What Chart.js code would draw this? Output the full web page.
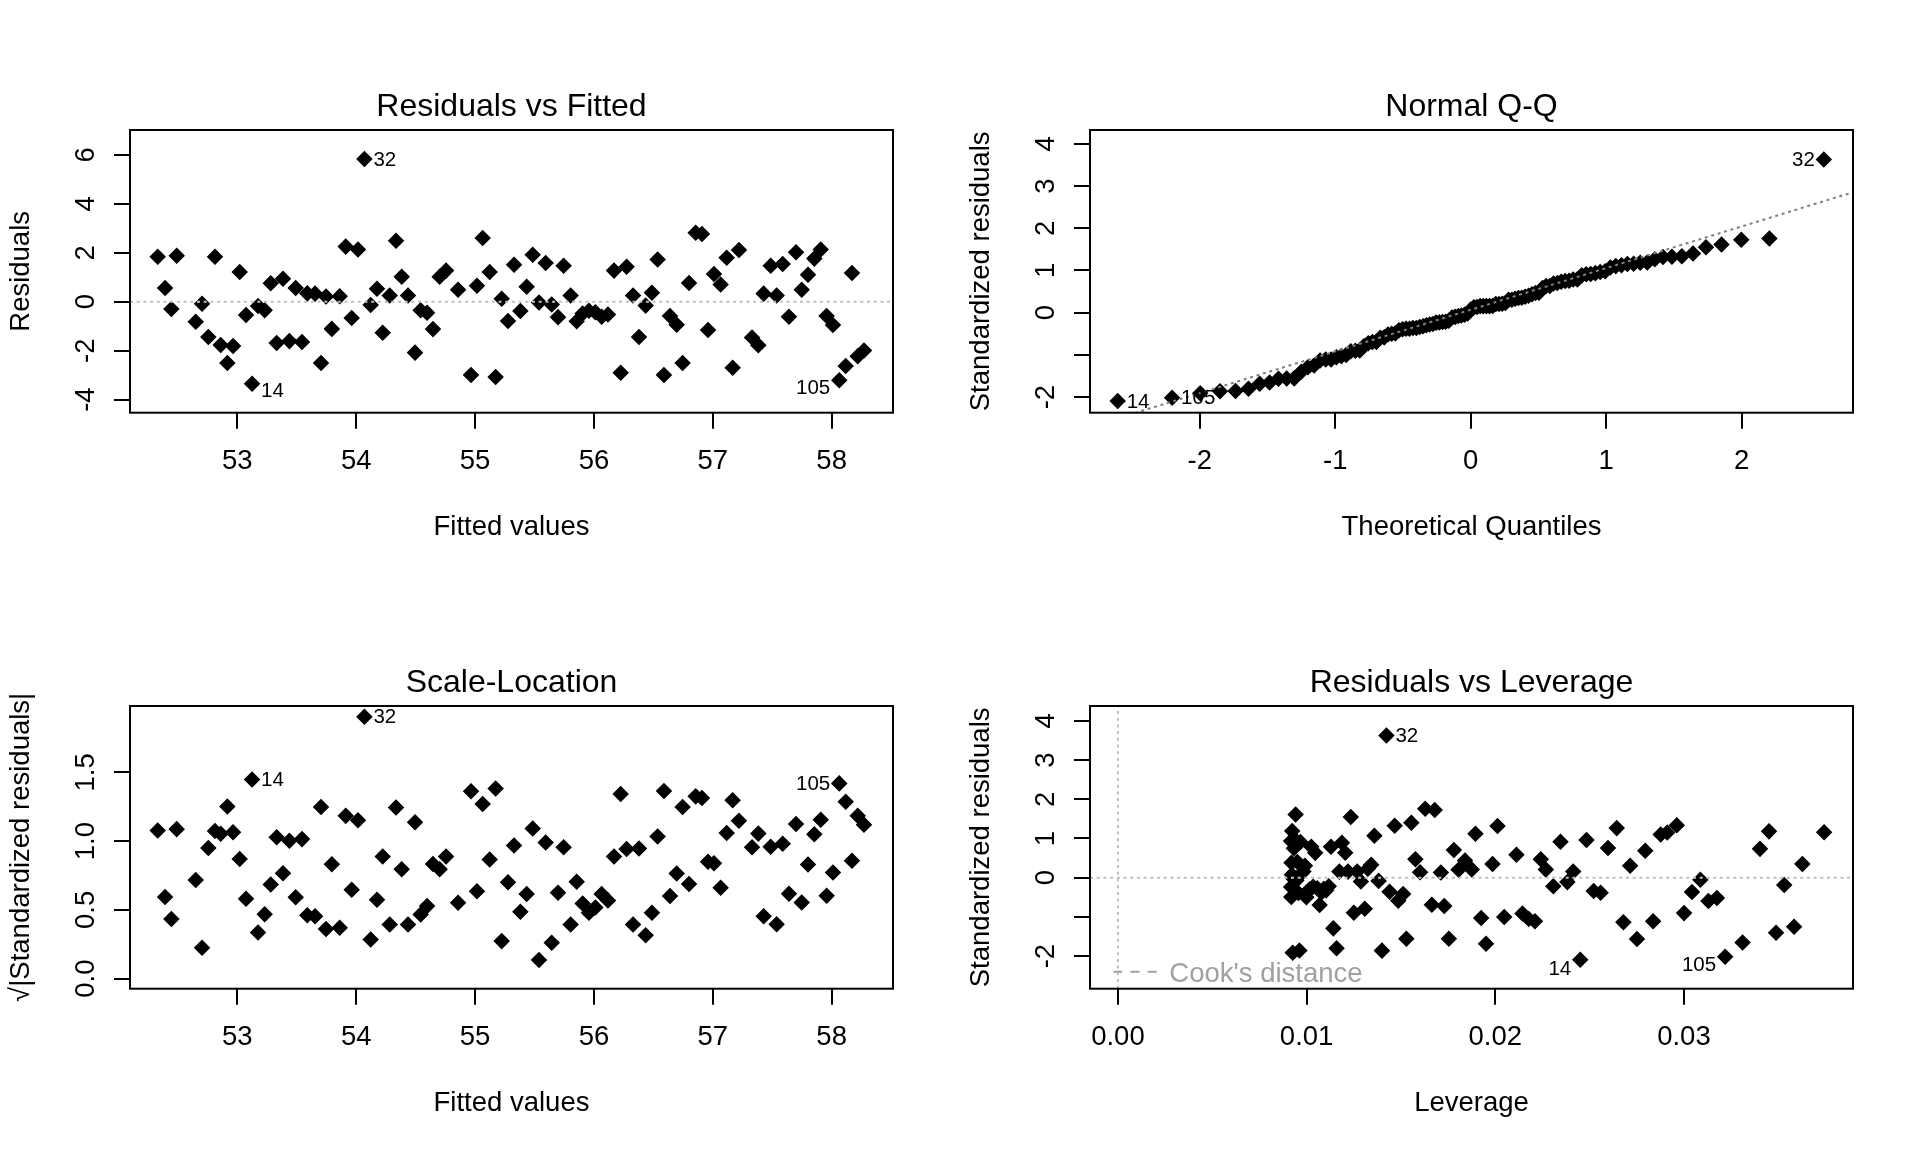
<!DOCTYPE html>
<html>
<head>
<meta charset="utf-8">
<title>Regression diagnostics</title>
<script src="https://cdn.jsdelivr.net/npm/chart.js@4.4.1/dist/chart.umd.min.js"></script>
<style>
  html, body { margin: 0; padding: 0; background: #fff; }
  #page { position: relative; width: 1920px; height: 1152px; background: #fff; overflow: hidden; }
  #page canvas { position: absolute; }
</style>
</head>
<body>
<div id="page">
  <canvas id="p1" width="960" height="576" style="left:0;top:0"></canvas>
  <canvas id="p2" width="960" height="576" style="left:960px;top:0"></canvas>
  <canvas id="p3" width="960" height="576" style="left:0;top:576px"></canvas>
  <canvas id="p4" width="960" height="576" style="left:960px;top:576px"></canvas>
</div>
<script>
const fittedValues = [
  52.330, 52.392, 52.445, 52.490, 52.650, 52.703, 52.756, 52.812, 52.860, 52.916, 52.964, 53.020, 53.073, 53.124, 53.174, 53.230, 53.281, 53.331, 53.384, 53.438, 53.491, 53.544, 53.589, 53.654, 53.704, 53.746, 53.795,
  53.861, 53.912, 53.962, 54.015, 54.069, 54.122, 54.175, 54.223, 54.282, 54.335, 54.383, 54.436, 54.495, 54.542, 54.596, 54.646, 54.702, 54.756, 54.857, 54.966, 55.016, 55.064, 55.123, 55.173, 55.224, 55.277, 55.328, 55.381, 55.434,
  55.485, 55.538, 55.594, 55.645, 55.698, 55.745, 55.804, 55.855, 55.905, 55.958, 56.012, 56.065, 56.118, 56.169, 56.225, 56.275, 56.329, 56.379, 56.435, 56.488, 56.536, 56.589, 56.640, 56.696, 56.746, 56.800, 56.856, 56.909, 56.960, 57.010, 57.066, 57.117,
  57.167, 57.220, 57.330, 57.383, 57.428, 57.487, 57.537, 57.588, 57.641, 57.700, 57.748, 57.801, 57.854, 57.908, 57.958, 58.011, 58.064, 58.118, 58.171, 58.219, 58.272
];
const residuals = [
  1.84, 0.56, -0.30, 1.88, -0.82, -0.08, -1.44, 1.84, -1.77, -2.50, -1.81, 1.21, -0.54, -3.35, -0.18, -0.35, 0.75, -1.69, 0.94, -1.61, 0.56, -1.65, 0.34, 0.33, -2.50, 0.21, -1.11,
  0.22, 2.25, -0.67, 2.13, 5.83, -0.13, 0.53, -1.27, 0.25, 2.49, 1.02, 0.25, -2.08, -0.35, -0.45, -1.12, 1.02, 1.27, 0.49, -2.99, 0.65, 2.60, 1.21, -3.08, 0.12, -0.79, 1.51, -0.38, 0.61,
  1.92, -0.03, 1.58, -0.11, -0.63, 1.47, 0.25, -0.80, -0.48, -0.37, -0.43, -0.61, -0.52, 1.27, -2.90, 1.43, 0.25, -1.44, -0.16, 0.37, 1.72, -2.99, -0.58, -0.94, -2.50, 0.76, 2.82, 2.77, -1.16, 1.13, 0.70, 1.80,
  -2.70, 2.11, -1.46, -1.78, 0.33, 1.47, 0.25, 1.54, -0.61, 2.02, 0.49, 1.10, 1.76, 2.13, -0.58, -0.95, -3.21, -2.63, 1.17, -2.23, -1.99
];
const labelledObs = [14, 32, 105];

const fittedTicks = [53, 54, 55, 56, 57, 58];
const residTicks = [-4, -2, 0, 2, 4, 6];
const quantileTicks = [-2, -1, 0, 1, 2];
const stdResidTicks = [-2, -1, 0, 1, 2, 3, 4];
const stdResidTickLabels = ['-2', '', '0', '1', '2', '3', '4'];
const sqrtTicks = [0, 0.5, 1, 1.5];
const sqrtTickLabels = ['0.0', '0.5', '1.0', '1.5'];
const leverageTicks = [0, 0.01, 0.02, 0.03];
const leverageTickLabels = ['0.00', '0.01', '0.02', '0.03'];

// axis limits as shown in the picture
const fittedRange = [52.097, 58.516];
const residRange = [-4.534, 7.014];
const quantileRange = [-2.810, 2.821];
const qqRange = [-2.369, 4.327];
const sqrtRange = [-0.073, 1.982];
const leverageRange = [-0.00148, 0.03896];
const levStdRange = [-2.830, 4.378];

// the usual lm diagnostics of the residuals above
const n = fittedValues.length;
const meanFit = fittedValues.reduce((s, v) => s + v, 0) / n;
const sxx = fittedValues.reduce((s, v) => s + (v - meanFit) ** 2, 0);
const leverage = fittedValues.map(v => 1 / n + (v - meanFit) ** 2 / sxx);
const sigma = Math.sqrt(residuals.reduce((s, r) => s + r * r, 0) / (n - 2));
const stdResid = residuals.map((r, i) => r / (sigma * Math.sqrt(1 - leverage[i])));
const sqrtStd = stdResid.map(v => Math.sqrt(Math.abs(v)));

function qnorm(p) {
  const a = [-3.969683028665376e+01, 2.209460984245205e+02, -2.759285104469687e+02, 1.383577518672690e+02, -3.066479806614716e+01, 2.506628277459239e+00];
  const b = [-5.447609879822406e+01, 1.615858368580409e+02, -1.556989798598866e+02, 6.680131188771972e+01, -1.328068155288572e+01];
  const c = [-7.784894002430293e-03, -3.223964580411365e-01, -2.400758277161838e+00, -2.549732539343734e+00, 4.374664141464968e+00, 2.938163982698783e+00];
  const d = [7.784695709041462e-03, 3.224671290700398e-01, 2.445134137142996e+00, 3.754408661907416e+00];
  const lo = 0.02425;
  let q, r;
  if (p < lo) {
    q = Math.sqrt(-2 * Math.log(p));
    return (((((c[0] * q + c[1]) * q + c[2]) * q + c[3]) * q + c[4]) * q + c[5]) / ((((d[0] * q + d[1]) * q + d[2]) * q + d[3]) * q + 1);
  }
  if (p > 1 - lo) return -qnorm(1 - p);
  q = p - 0.5; r = q * q;
  return (((((a[0] * r + a[1]) * r + a[2]) * r + a[3]) * r + a[4]) * r + a[5]) * q / (((((b[0] * r + b[1]) * r + b[2]) * r + b[3]) * r + b[4]) * r + 1);
}

const order = stdResid.map((v, i) => i).sort((i, j) => stdResid[i] - stdResid[j]);
const theoQ = order.map((idx, k) => qnorm((k + 0.5) / n));
const rankOf = [];
order.forEach((idx, k) => { rankOf[idx] = k; });

function quantile7(sorted, p) {
  const h = (sorted.length - 1) * p, l = Math.floor(h);
  return sorted[l] + (h - l) * (sorted[Math.min(l + 1, sorted.length - 1)] - sorted[l]);
}
const sortedStd = order.map(i => stdResid[i]);
const qy1 = quantile7(sortedStd, 0.25), qy3 = quantile7(sortedStd, 0.75);
const qx1 = qnorm(0.25), qx3 = qnorm(0.75);
const qqSlope = (qy3 - qy1) / (qx3 - qx1);
const qqIntercept = qy1 - qqSlope * qx1;

Chart.defaults.font.family = '"Liberation Sans", Arial, Helvetica, sans-serif';
Chart.defaults.color = '#000';

const LIGHT = '#bebebe';
const DOT = [3, 3.7];

// box, rotated y tick labels, id labels and legend, drawn the way R does it
const rPanel = {
  id: 'rPanel',
  afterDatasetsDraw(chart, args, opts) {
    const { ctx, chartArea: a } = chart;
    const xs = chart.scales.x, ys = chart.scales.y;
    ctx.save();
    ctx.strokeStyle = '#000';
    ctx.lineWidth = 2;
    ctx.setLineDash([]);
    ctx.strokeRect(a.left, a.top, a.right - a.left, a.bottom - a.top);

    ctx.fillStyle = '#000';
    ctx.font = '27.5px "Liberation Sans", Arial, sans-serif';
    ctx.textAlign = 'center';
    ctx.textBaseline = 'middle';
    opts.yTicks.forEach((v, i) => {
      const t = opts.yLabels[i];
      if (!t) return;
      ctx.save();
      ctx.translate(a.left - 43.3, ys.getPixelForValue(v));
      ctx.rotate(-Math.PI / 2);
      ctx.fillText(t, 0, 0);
      ctx.restore();
    });

    ctx.font = '20.5px "Liberation Sans", Arial, sans-serif';
    opts.ids.forEach(id => {
      const px = xs.getPixelForValue(id.x), py = ys.getPixelForValue(id.y);
      ctx.textAlign = id.side > 0 ? 'left' : 'right';
      ctx.fillText(id.text, px + id.side * 9, py + 1 + id.dy);
    });

    if (opts.legend) {
      ctx.strokeStyle = '#a0a0a0';
      ctx.lineWidth = 2;
      ctx.setLineDash([9, 8.2]);
      ctx.beginPath();
      ctx.moveTo(a.left + 23.3, a.bottom - 17);
      ctx.lineTo(a.left + 66.7, a.bottom - 17);
      ctx.stroke();
      ctx.setLineDash([]);
      ctx.fillStyle = '#a0a0a0';
      ctx.font = '27.5px "Liberation Sans", Arial, sans-serif';
      ctx.textAlign = 'left';
      ctx.fillText(opts.legend, a.left + 79.3, a.bottom - 14.4);
    }
    ctx.restore();
  }
};

function refLine(data, color) {
  return { data, showLine: true, pointRadius: 0, borderColor: color, borderWidth: 2, borderDash: DOT, fill: false, order: 1 };
}

function makePanel(id, p) {
  const pts = {
    data: p.points, showLine: false, pointStyle: 'rectRot', pointRadius: 7.2, pointBorderWidth: 1.5,
    backgroundColor: '#000', borderColor: '#000', order: 2
  };
  return new Chart(document.getElementById(id), {
    type: 'scatter',
    data: { datasets: [pts].concat(p.lines) },
    options: {
      responsive: false,
      animation: false,
      devicePixelRatio: 1,
      events: [],
      layout: { padding: { left: 0, right: 67, top: 0, bottom: 35.3 } },
      plugins: {
        legend: { display: false },
        tooltip: { enabled: false },
        title: {
          display: true, text: p.title, fullSize: false, color: '#000',
          font: { size: 32, weight: 'normal', lineHeight: 1 },
          padding: { top: 91.4, bottom: 6.6 }
        },
        rPanel: { yTicks: p.yTicks, yLabels: p.yLabels, ids: p.ids, legend: p.legend }
      },
      scales: {
        x: {
          type: 'linear', min: p.xRange[0], max: p.xRange[1],
          afterBuildTicks: s => { s.ticks = p.xTicks.map(v => ({ value: v })); },
          afterFit: s => { s.height = 128; },
          ticks: {
            autoSkip: false, maxRotation: 0, minRotation: 0, padding: 18.8, color: '#000',
            font: { size: 27.5, lineHeight: 1 },
            callback: (v, i) => p.xLabels[i]
          },
          grid: { drawOnChartArea: false, drawTicks: true, tickLength: 16, lineWidth: 2, tickWidth: 2, color: '#000', tickColor: '#000' },
          border: { display: false },
          title: { display: true, text: p.xTitle, color: '#000', font: { size: 27.5, lineHeight: 1 }, padding: { top: 0, bottom: 0 } }
        },
        y: {
          type: 'linear', min: p.yRange[0], max: p.yRange[1],
          afterBuildTicks: s => { s.ticks = p.yTicks.map(v => ({ value: v })); },
          afterFit: s => { s.width = 130; },
          ticks: { display: false },
          grid: { drawOnChartArea: false, drawTicks: true, tickLength: 16, lineWidth: 2, tickWidth: 2, color: '#000', tickColor: '#000' },
          border: { display: false },
          title: { display: true, text: p.yTitle, color: '#000', font: { size: 27.5, lineHeight: 1 }, padding: { top: 7.35, bottom: 0 } }
        }
      }
    },
    plugins: [rPanel]
  });
}

// Residuals vs Fitted
makePanel('p1', {
  title: 'Residuals vs Fitted', xTitle: 'Fitted values', yTitle: 'Residuals',
  xRange: fittedRange, yRange: residRange,
  xTicks: fittedTicks, xLabels: fittedTicks.map(String),
  yTicks: residTicks, yLabels: residTicks.map(String),
  points: fittedValues.map((f, i) => ({ x: f, y: residuals[i] })),
  lines: [refLine([{ x: fittedRange[0], y: 0 }, { x: fittedRange[1], y: 0 }], LIGHT)],
  ids: labelledObs.map(o => ({
    text: String(o), x: fittedValues[o - 1], y: residuals[o - 1],
    side: fittedValues[o - 1] > 55.3 ? -1 : 1, dy: residuals[o - 1] < 0 ? 7 : 0
  }))
});

// Normal Q-Q
makePanel('p2', {
  title: 'Normal Q-Q', xTitle: 'Theoretical Quantiles', yTitle: 'Standardized residuals',
  xRange: quantileRange, yRange: qqRange,
  xTicks: quantileTicks, xLabels: quantileTicks.map(String),
  yTicks: stdResidTicks, yLabels: stdResidTickLabels,
  points: order.map((idx, k) => ({ x: theoQ[k], y: stdResid[idx] })),
  lines: [refLine([
    { x: quantileRange[0], y: qqIntercept + qqSlope * quantileRange[0] },
    { x: quantileRange[1], y: qqIntercept + qqSlope * quantileRange[1] }
  ], '#7f7f7f')],
  ids: labelledObs.map(o => ({
    text: String(o), x: theoQ[rankOf[o - 1]], y: stdResid[o - 1],
    side: theoQ[rankOf[o - 1]] > 0 ? -1 : 1, dy: 0
  }))
});

// Scale-Location
makePanel('p3', {
  title: 'Scale-Location', xTitle: 'Fitted values', yTitle: '\u221A|Standardized residuals|',
  xRange: fittedRange, yRange: sqrtRange,
  xTicks: fittedTicks, xLabels: fittedTicks.map(String),
  yTicks: sqrtTicks, yLabels: sqrtTickLabels,
  points: fittedValues.map((f, i) => ({ x: f, y: sqrtStd[i] })),
  lines: [],
  ids: labelledObs.map(o => ({
    text: String(o), x: fittedValues[o - 1], y: sqrtStd[o - 1],
    side: fittedValues[o - 1] > 55.3 ? -1 : 1, dy: 0
  }))
});

// Residuals vs Leverage
makePanel('p4', {
  title: 'Residuals vs Leverage', xTitle: 'Leverage', yTitle: 'Standardized residuals',
  xRange: leverageRange, yRange: levStdRange,
  xTicks: leverageTicks, xLabels: leverageTickLabels,
  yTicks: stdResidTicks, yLabels: stdResidTickLabels,
  points: leverage.map((h, i) => ({ x: h, y: stdResid[i] })),
  lines: [
    refLine([{ x: leverageRange[0], y: 0 }, { x: leverageRange[1], y: 0 }], LIGHT),
    refLine([{ x: 0, y: levStdRange[0] }, { x: 0, y: levStdRange[1] }], LIGHT)
  ],
  ids: labelledObs.map(o => ({
    text: String(o), x: leverage[o - 1], y: stdResid[o - 1],
    side: leverage[o - 1] > 0.0187 ? -1 : 1, dy: stdResid[o - 1] < 0 ? 8 : 0
  })),
  legend: "Cook's distance"
});
</script>
</body>
</html>
